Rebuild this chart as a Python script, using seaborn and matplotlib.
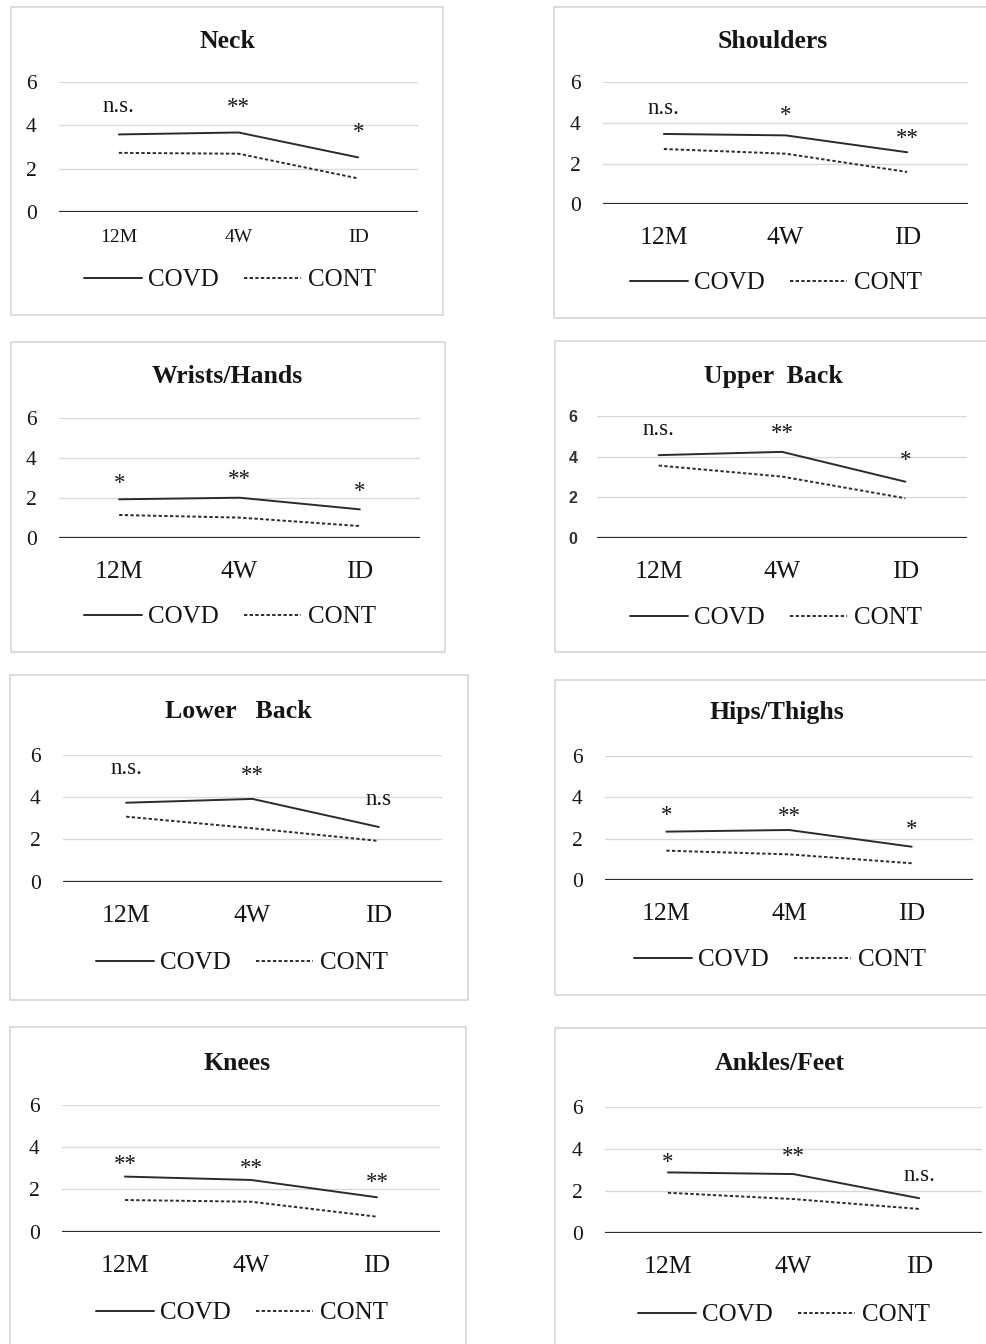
import matplotlib
matplotlib.use("Agg")
import matplotlib.pyplot as plt
from matplotlib.patches import Rectangle
import seaborn as sns
import pandas as pd

# %%
# datos (puntaje medio por region)
panels = ["Neck", "Shoulders", "Wrists/Hands", "Upper  Back",
          "Lower   Back", "Hips/Thighs", "Knees", "Ankles/Feet"]
x_labels = [["12M", "4W", "ID"]] * 5 + [["12M", "4M", "ID"]] + [["12M", "4W", "ID"]] * 2
groups = ["COVD", "CONT"]

covd = [[3.58, 3.67, 2.52],
        [3.46, 3.39, 2.56],
        [1.94, 2.02, 1.44],
        [4.07, 4.23, 2.77],
        [3.74, 3.92, 2.59],
        [2.34, 2.42, 1.61],
        [2.61, 2.45, 1.63],
        [2.90, 2.82, 1.67]]
cont = [[2.73, 2.69, 1.55],
        [2.72, 2.49, 1.59],
        [1.16, 1.03, 0.61],
        [3.56, 3.02, 1.96],
        [3.08, 2.53, 1.93],
        [1.42, 1.24, 0.81],
        [1.50, 1.42, 0.71],
        [1.93, 1.63, 1.16]]
sig = [["n.s.", "**", "*"],
       ["n.s.", "*", "**"],
       ["*", "**", "*"],
       ["n.s.", "**", "*"],
       ["n.s.", "**", "n.s"],
       ["*", "**", "*"],
       ["**", "**", "**"],
       ["*", "**", "n.s."]]

# %%
# posicion de las marcas de significancia (unidades del eje y)
sig_y = [[4.88, 5.13, 3.98],
         [4.69, 4.72, 3.57],
         [3.07, 3.28, 2.69],
         [5.34, 5.47, 4.17],
         [5.37, 5.37, 3.87],
         [3.47, 3.42, 2.77],
         [3.53, 3.32, 2.69],
         [3.73, 4.00, 2.73]]

# layout en pixeles: caja, eje (izq, der, y0, y6), titulo, leyenda
boxes = [(11, 7, 443, 315), (554, 7, 992, 318),
         (11, 342, 445, 652), (555, 341, 992, 652),
         (10, 675, 468, 1000), (555, 680, 992, 995),
         (10, 1027, 466, 1350), (555, 1028, 992, 1350)]
axes_px = [(59, 418, 212, 82), (603, 968, 204.3, 82.3),
           (59, 420, 538.3, 417.7), (597, 967, 538.3, 415.7),
           (63, 442, 881.7, 755), (605, 973, 880, 756),
           (62, 440, 1231.7, 1105), (605, 982, 1233.3, 1107.3)]
titles_px = [(227, 42), (773, 42), (227, 377), (773, 377),
             (238, 712), (777, 713), (237, 1063), (780, 1063)]
legend_px = [(230, 280), (776, 283), (230, 617), (776, 618),
             (242, 963), (780, 960), (242, 1313), (784, 1315)]

W, H = 986, 1344
ink = "#151515"

sns.set_theme(style="white")
plt.rcParams["font.family"] = ["Liberation Serif", "DejaVu Serif"]
plt.rcParams["text.color"] = ink

fig = plt.figure(figsize=(W / 100, H / 100), dpi=100)
fig.patch.set_facecolor("white")

for i, name in enumerate(panels):
    bl, bt, br, bb = boxes[i]
    fig.add_artist(Rectangle((bl / W, 1 - bb / H), (br - bl) / W, (bb - bt) / H,
                             transform=fig.transFigure, fill=False,
                             ec="#d6d6d6", lw=1.2))

    al, ar, y0, y6 = axes_px[i]
    ax = fig.add_axes([al / W, 1 - y0 / H, (ar - al) / W, (y0 - y6) / H])
    ax.set_facecolor("none")

    df = pd.DataFrame({
        "time": x_labels[i] * 2,
        "score": covd[i] + cont[i],
        "group": [groups[0]] * 3 + [groups[1]] * 3,
    })
    sns.lineplot(data=df, x="time", y="score", style="group", ax=ax,
                 color="#2b2b2b", linewidth=1.4, sort=False,
                 dashes={"COVD": "", "CONT": (1.7, 1.2)})
    handles, labels = ax.get_legend_handles_labels()
    if ax.legend_ is not None:
        ax.legend_.remove()

    ax.set_xlim(-0.5, 2.5)
    ax.set_ylim(0, 6)
    ax.set_yticks([0, 2, 4, 6])
    ax.yaxis.grid(True, color="#d9d9d9", lw=1)
    ax.set_axisbelow(True)
    ax.axhline(0, color="#2b2b2b", lw=1.6, zorder=1)
    for s in ax.spines.values():
        s.set_visible(False)
    ax.set_xlabel("")
    ax.set_ylabel("")

    xsize = 14 if i == 0 else 18.5
    xpad = 12 if i == 0 else 16.5
    ax.tick_params(axis="x", length=0, pad=xpad, labelsize=xsize, colors=ink)
    ax.tick_params(axis="y", length=0, pad=16, labelsize=15.5, colors=ink)
    if i == 3:
        ax.tick_params(axis="y", pad=14)
        for lab in ax.get_yticklabels():
            lab.set_fontfamily("Liberation Sans")
            lab.set_fontsize(11.5)
            lab.set_fontweight("bold")
            lab.set_color("#333333")

    for j, lab in enumerate(sig[i]):
        dy = -0.31 * 16.5 if "*" in lab else 0
        ax.annotate(lab, (j, sig_y[i][j]), xytext=(0, dy), textcoords="offset points",
                    ha="center", va="center", fontsize=16.5, color=ink,
                    annotation_clip=False)

    tx, ty = titles_px[i]
    fig.text(tx / W, 1 - ty / H, name, ha="center", va="center",
             fontsize=18.5, fontweight="bold", color=ink)

    lx, ly = legend_px[i]
    fig.legend(handles, labels, loc="center", bbox_to_anchor=(lx / W, 1 - ly / H),
               ncol=2, frameon=False, fontsize=18, handlelength=2.3,
               handletextpad=0.25, columnspacing=1.0, borderpad=0)

fig.savefig("out.png", dpi=100, facecolor="white")
